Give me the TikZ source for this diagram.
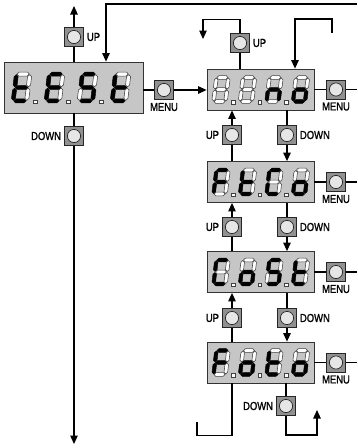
\documentclass[tikz,border=0pt]{standalone}
\usepackage{fontspec}
\newfontfamily\lblfont{Liberation Sans}[FakeStretch=0.82, FakeBold=1.4]
\usepackage{tikz}
\usetikzlibrary{arrows.meta,positioning}
\definecolor{lcdgray}{RGB}{198,198,198}
\definecolor{keygray}{RGB}{145,145,145}
\definecolor{capgray}{RGB}{230,230,230}

\tikzset{
  lcd/.style={draw=black!80, line width=0.8pt, fill=lcdgray, inner sep=0pt,
    minimum width=107pt, minimum height=41pt},
  key/.style={draw=black!85, line width=0.8pt, fill=keygray, inner sep=0pt,
    minimum size=19pt,
    path picture={\draw[line width=0.7pt, fill=capgray]
      (path picture bounding box.center) circle (6.6pt);}},
  lbl/.style={inner sep=1pt},
  arr/.style={-{Triangle[length=8.5pt,width=7.5pt]}},
  seg/.is choice,
  seg/0/.style={fill=white, draw=black!75, line width=0.55pt},
  seg/1/.style={fill=black, draw=black, line width=0.45pt},
}

% one 7-segment digit: position, then segments a b c d e f g (0 off, 1 on)
\newcommand{\hseg}[3]{\filldraw[seg=#3, shift={(#1,#2)}]
  (-5.5,0) -- (-3.7,-1.8) -- (3.7,-1.8) -- (5.5,0) -- (3.7,1.8) -- (-3.7,1.8) -- cycle;}
\newcommand{\vseg}[3]{\filldraw[seg=#3, shift={(#1,#2)}]
  (0,-5.5) -- (1.8,-3.7) -- (1.8,3.7) -- (0,5.5) -- (-1.8,3.7) -- (-1.8,-3.7) -- cycle;}
\newcommand{\lcddigit}[8]{%
  \begin{scope}[shift={#1}, xslant=0.12]
    \hseg{0}{-12}{#2} \vseg{6}{-6}{#3} \vseg{6}{6}{#4} \hseg{0}{12}{#5}
    \vseg{-6}{6}{#6} \vseg{-6}{-6}{#7} \hseg{0}{0}{#8}
  \end{scope}}
% a row of digits on a display: [scale]{node}{dx/dot/a/b/c/d/e/f/g,...}
\newcommand{\lcdword}[3][1]{%
  \begin{scope}[shift={(#2.center)}, scale=#1]
    \foreach \dx/\dp/\sa/\sb/\sc/\sd/\se/\sf/\sg in {#3} {
      \lcddigit{(\dx,0)}{\sa}{\sb}{\sc}{\sd}{\se}{\sf}{\sg}
      \ifnum\dp=1 \filldraw[seg=0] (\dx+10.5,11) rectangle ++(3.5,3.5);\fi
    }
  \end{scope}}

\begin{document}
\begin{tikzpicture}[x=1pt, y=-1pt, line width=1.2pt,
    every node/.style={font=\lblfont\fontsize{11.5}{13}\selectfont}]
  \useasboundingbox (0,0) rectangle (357,448);
  % Displays
  \node[lcd, minimum width=139pt, minimum height=51pt] (disT) at (73.5,87.5) {};
  \foreach \n/\y in {dA/89.5, dB/182, dC/272, dD/362.5}
    \node[lcd] (\n) at (260.5,\y) {};
  % Keys
  \node[key] (upT) at (74,37) {};
  \node[key] (downT) at (74,136) {};
  \node[key] (menuT) at (164,90) {};
  \node[key] (upA) at (240,43) {};
  \foreach \n/\y in {A/89.5, B/182, C/272, D/362.5}
    \node[key] (menu\n) at (336,\y) {};
  \foreach \k/\y in {AB/135, BC/227, CD/318} {
    \node[key] (up\k) at (232,\y) {};
    \node[key] (down\k) at (287,\y) {};
  }
  \node[key] (downD) at (286,406) {};
  % Labels
  \node[lbl, right=1.5pt of upT] (upTl) {UP};
  \node[lbl, left=1.5pt of downT] (downTl) {DOWN};
  \node[lbl, below=1.5pt of menuT] (menuTl) {MENU};
  \node[lbl, right=1.5pt of upA] (upAl) {UP};
  \foreach \n in {A,B,C,D}
    \node[lbl, below=1.5pt of menu\n] (menu\n l) {MENU};
  \foreach \k in {AB,BC,CD} {
    \node[lbl, left=1.5pt of up\k] (up\k l) {UP};
    \node[lbl, right=1.5pt of down\k] (down\k l) {DOWN};
  }
  \node[lbl, left=1.5pt of downD] (downDl) {DOWN};
  % Digits
  \lcdword[1.12]{disT}{-46.4/1/0/0/0/1/1/1/1, -17/1/1/0/0/1/1/1/1,
    12.5/1/1/0/1/1/0/1/1, 42/0/0/0/0/1/1/1/1}
  \lcdword{dA}{-39.5/1/0/0/0/0/0/0/0, -13/1/0/0/0/0/0/0/0,
    13.5/1/0/0/1/0/1/0/1, 40/0/0/0/1/1/1/0/1}
  \lcdword{dB}{-39.5/1/1/0/0/0/1/1/1, -13/1/0/0/0/1/1/1/1,
    13.5/1/1/0/0/1/1/1/0, 40/0/0/0/1/1/1/0/1}
  \lcdword{dC}{-39.5/1/1/0/0/1/1/1/0, -13/1/0/0/1/1/1/0/1,
    13.5/1/1/0/1/1/0/1/1, 40/0/0/0/0/1/1/1/1}
  \lcdword{dD}{-39.5/1/1/0/0/0/1/1/1, -13/1/0/0/1/1/1/0/1,
    13.5/1/0/0/0/1/1/1/1, 40/0/0/0/1/1/1/0/1}
  % Connectors, left column
  \coordinate (outUp) at (74,6);
  \coordinate (outDown) at (74,444);
  \coordinate (loopR) at (357,4);
  \draw[arr] (upT) -- (outUp);
  \draw (disT.north -| upT) -- (upT);
  \draw (disT.south -| downT) -- (downT);
  \draw[arr] (downT) -- (outDown);
  \draw[arr] (loopR) -| ([xshift=32.5pt]disT.north);
  \draw (disT.east |- menuT) -- (menuT);
  \draw[arr] (menuT) -- (dA.west |- menuT);
  % Connectors, right column
  \coordinate (outA) at (203,39);
  \coordinate (retA) at (332,33);
  \draw (upA) -- (upA |- dA.north);
  \draw[arr] (upA.north) -- ++(0,-14) -| (outA);
  \draw[arr] (retA) -- ++(0,-14) -| ([xshift=34.5pt]dA.north);
  \foreach \n in {A,B,C,D}
    \draw (d\n) -- (menu\n) (menu\n.east) -- ++(11.5,0);
  \foreach \p/\q/\k in {dA/dB/AB, dB/dC/BC, dC/dD/CD} {
    \draw[arr] (up\k) -- (up\k |- \p.south);
    \draw (up\k) -- (up\k |- \q.north);
    \draw (down\k) -- (down\k |- \p.south);
    \draw[arr] (down\k) -- (down\k |- \q.north);
  }
  \coordinate (outL) at (197,422);
  \coordinate (outR) at (317,410);
  \draw ([xshift=-28.5pt]dD.south) -- ++(0,52) -| (outL);
  \draw (downD) -- (downD |- dD.south);
  \draw[arr] (downD.south) -- ++(0,19) -| (outR);
\end{tikzpicture}
\end{document}
